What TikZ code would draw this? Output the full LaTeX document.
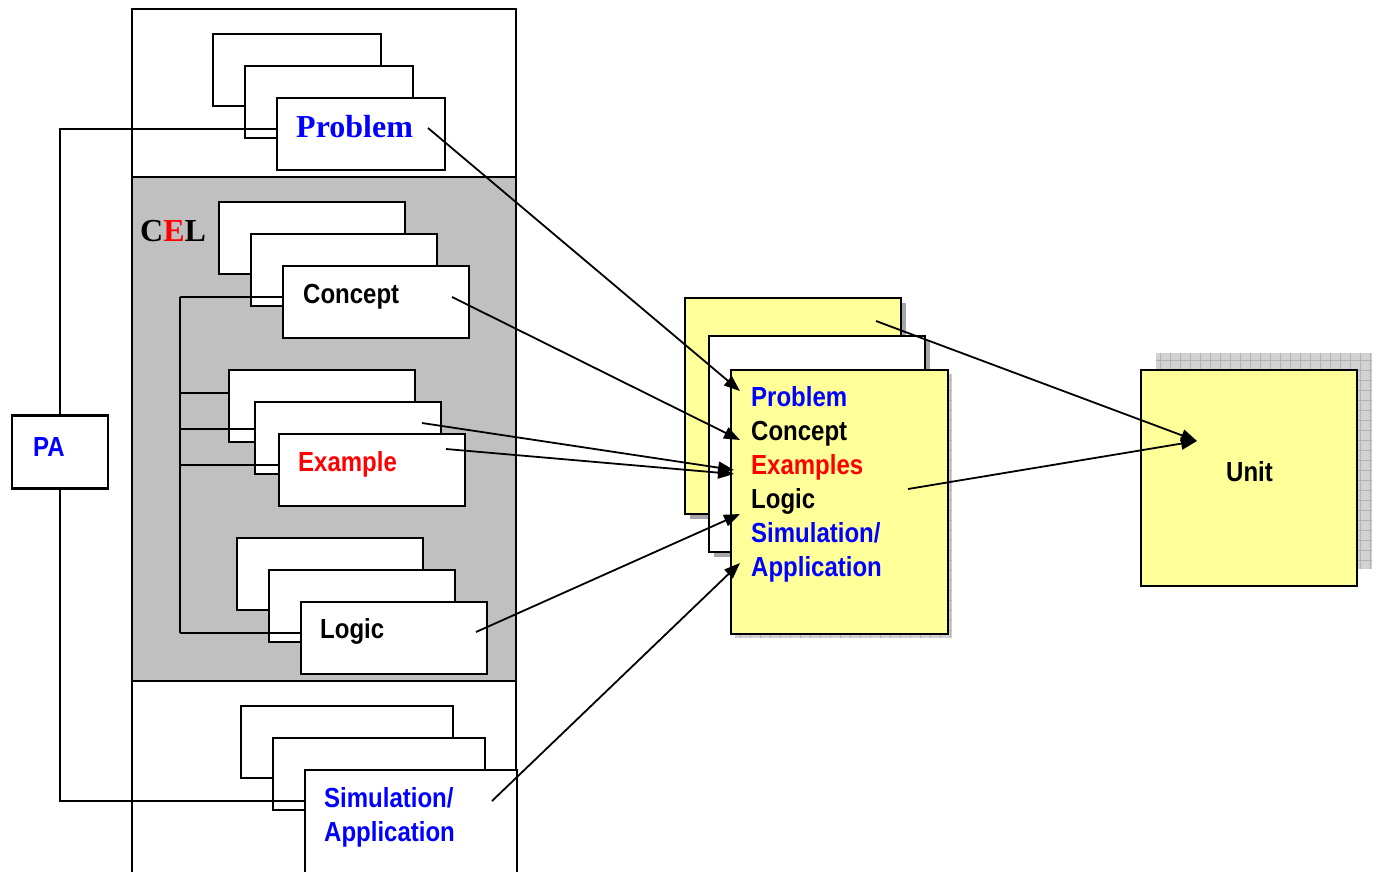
\documentclass[tikz,border=0pt]{standalone}
\usepackage{fontspec}
\setmainfont{Liberation Serif}
\setsansfont{Liberation Sans}
\usetikzlibrary{arrows.meta,shadows}

\definecolor{note}{RGB}{255,255,153}
\definecolor{panel}{RGB}{192,192,192}

% text in the reference is set a little taller than wide
\newcommand\tall[1]{\scalebox{1}[1.15]{#1}}

\tikzset{
  card/.style 2 args={draw, fill=white, line width=1.8pt, anchor=north west,
    inner sep=0pt, minimum width=#1, minimum height=#2},
  lbl/.style={anchor=base west, inner sep=0pt,
    font=\sffamily\bfseries\fontsize{24}{34}\selectfont},
  serif/.style={anchor=base west, inner sep=0pt,
    font=\rmfamily\bfseries\fontsize{32}{36}\selectfont},
  arr/.style={-{Triangle[length=16pt,width=12pt]}, line width=1.8pt},
  wire/.style={line width=1.8pt},
  dropped/.style={drop shadow={shadow xshift=5pt, shadow yshift=-5pt,
    fill=gray!70, opacity=1}},
  gridshade/.style={draw=gray!60, line width=0.8pt, step=10pt},
}

\begin{document}
\begin{tikzpicture}[x=1pt,y=-1pt]

\useasboundingbox (0,0) rectangle (1378,872);
\clip (0,0) rectangle (1378,872);

% left column
\fill[panel] (132,177) rectangle (516,681);
\draw[line width=2.2pt] (132,9) rectangle (516,900);
\draw[line width=2.2pt] (132,177) -- (516,177) (132,681) -- (516,681);

% problem stack
\node[card={168pt}{72pt}] (p1) at (212,33) {};
\node[card={168pt}{72pt}] (p2) at (244,65) {};
\node[card={168pt}{72pt}] (p3) at (276,97) {};
\node[serif, text=blue] (ptxt) at (296,137) {Problem};

% CEL
\node[serif] (cel) at (140,241) {C\textcolor{red}{E}L};

% concept stack
\node[card={186pt}{72pt}] (c1) at (218,201) {};
\node[card={186pt}{72pt}] (c2) at (250,233) {};
\node[card={186pt}{72pt}] (c3) at (282,265) {};
\node[lbl] (ctxt) at (303,303) {\tall{Concept}};

% example stack
\node[card={186pt}{72pt}] (e1) at (228,369) {};
\node[card={186pt}{72pt}] (e2) at (254,401) {};
\node[card={186pt}{72pt}] (e3) at (278,433) {};
\node[lbl, text=red] (etxt) at (298,471) {\tall{Example}};

% logic stack
\node[card={186pt}{72pt}] (l1) at (236,537) {};
\node[card={186pt}{72pt}] (l2) at (268,569) {};
\node[card={186pt}{72pt}] (l3) at (300,601) {};
\node[lbl] (ltxt) at (320,638) {\tall{Logic}};

% simulation stack (runs off the bottom)
\node[card={212pt}{72pt}] (s1) at (240,705) {};
\node[card={212pt}{72pt}] (s2) at (272,737) {};
\node[card={212pt}{130pt}] (s3) at (304,769) {};
\node[lbl, text=blue] (stxt) at (324,807) {\tall{Simulation/}};
\node[lbl, text=blue] (atxt) at (324,841) {\tall{Application}};

% tree inside CEL
\coordinate (tc) at (180,297);
\coordinate (te1) at (180,393);
\coordinate (te2) at (180,429);
\coordinate (te3) at (180,465);
\coordinate (tl) at (180,633);
\draw[wire] (tc) -- (tl);
\draw[wire] (tc) -- (tc -| c3.west);
\draw[wire] (te1) -- (te1 -| e1.west);
\draw[wire] (te2) -- (te2 -| e2.west);
\draw[wire] (te3) -- (te3 -| e3.west);
\draw[wire] (tl) -- (tl -| l3.west);

% PA
\node[draw, line width=2.2pt, fill=white, minimum width=96pt, minimum height=73pt] (pa) at (60,452) {};
\node[lbl, text=blue] (patxt) at (33,456) {\tall{PA}};
\coordinate (pp) at (60,129);
\coordinate (ps) at (60,801);
\draw[wire] (pa.north) -- (pp) -- (pp -| p3.west);
\draw[wire] (pa.south) -- (ps) -- (ps -| s3.west);

% lesson stack
\node[card={216pt}{216pt}, fill=note, dropped] (y1) at (684,297) {};
\node[card={216pt}{216pt}, dropped] (y2) at (708,335) {};
\fill[gray!35] (735,374) rectangle (952,638);
\draw[gridshade] (735,374) grid (952,638);
\node[card={217pt}{264pt}, fill=note] (y3) at (730,369) {};
\node[lbl, text=blue] (ytxt) at (751,406) {\tall{Problem}};
\node[lbl] at (751,440) {\tall{Concept}};
\node[lbl, text=red] at (751,474) {\tall{Examples}};
\node[lbl] at (751,508) {\tall{Logic}};
\node[lbl, text=blue] at (751,542) {\tall{Simulation/}};
\node[lbl, text=blue] at (751,576) {\tall{Application}};

% unit
\fill[gray!35] (1156,353) rectangle (1372,569);
\draw[gridshade] (1156,353) grid (1372,569);
\node[card={216pt}{216pt}, fill=note] (unit) at (1140,369) {};
\node[lbl] (utxt) at (1226,481) {\tall{Unit}};

% arrows
\coordinate (pout) at (428,128);
\coordinate (cout) at (452,297);
\coordinate (eout1) at (422,423);
\coordinate (eout2) at (446,449);
\coordinate (lout) at (476,632);
\coordinate (sout) at (492,801);
\coordinate (y1out) at (876,321);
\coordinate (y3out) at (908,489);
\coordinate (pin) at (740,391);
\coordinate (cin) at (740,440);
\coordinate (ein1) at (734,470);
\coordinate (ein2) at (734,474);
\coordinate (lin) at (740,514);
\coordinate (sin) at (740,563);
\coordinate (uin) at (1197,441);

\draw[arr] (pout) -- (pin);
\draw[arr] (cout) -- (cin);
\draw[arr] (eout1) -- (ein1);
\draw[arr] (eout2) -- (ein2);
\draw[arr] (lout) -- (lin);
\draw[arr] (sout) -- (sin);
\draw[arr] (y1out) -- (uin);
\draw[arr] (y3out) -- (uin);

\end{tikzpicture}
\end{document}
